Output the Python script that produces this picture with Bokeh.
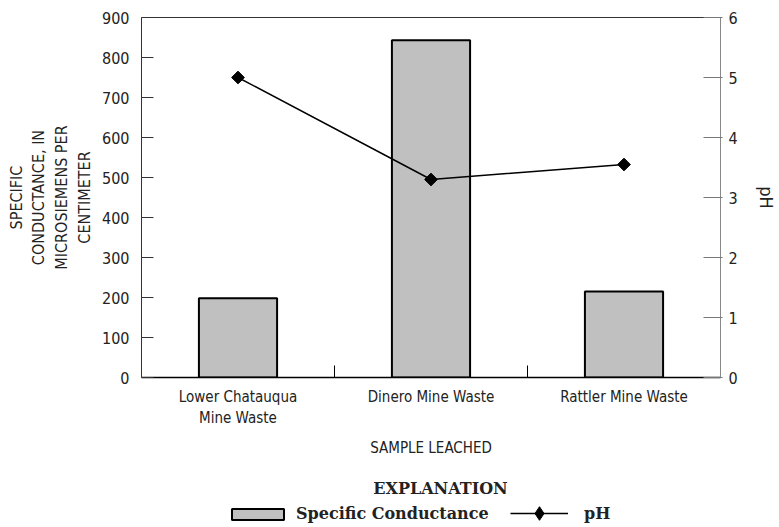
import math
from bokeh.plotting import figure
from bokeh.layouts import column
from bokeh.models import (Range1d, LinearAxis, SingleIntervalTicker, FixedTicker,
                          Legend, LegendItem, Label)
from bokeh.embed import file_html
from bokeh.resources import INLINE

categories = ["Lower Chatauqua\nMine Waste", "Dinero Mine Waste", "Rattler Mine Waste"]
conductance = [198, 843, 215]
ph = [5.00, 3.30, 3.55]
series_names = ["Specific Conductance", "pH"]

SANS = "'DejaVu Sans Condensed', 'Liberation Sans Narrow', 'Liberation Sans', sans-serif"
SERIF = "'DejaVu Serif', 'Liberation Serif', serif"

BAR_FILL = "#c0c0c0"

n = len(categories)
xc = [i + 0.5 for i in range(n)]
bounds = [i for i in range(1, n)]

p = figure(width=779, height=470, output_backend="svg", toolbar_location=None,
           x_range=Range1d(0, n), y_range=Range1d(0, 900),
           min_border_left=141, min_border_right=53, min_border_top=17, min_border_bottom=93)
p.grid.visible = False
p.outline_line_color = None
p.background_fill_color = "white"
p.border_fill_color = "white"

p.extra_y_ranges = {"ph": Range1d(0, 6)}

# x axis
xa = p.xaxis[0]
xa.ticker = FixedTicker(ticks=xc)
xa.major_label_overrides = {x: c for x, c in zip(xc, categories)}
xa.major_tick_in = 0
xa.major_tick_out = 0
xa.minor_tick_line_color = None
xa.axis_line_color = "black"
xa.axis_line_width = 1.5
xa.major_label_text_font = SANS
xa.major_label_text_font_size = "15px"
xa.major_label_text_color = "#222222"
xa.major_label_standoff = 10
xa.axis_label = "SAMPLE LEACHED"
xa.axis_label_text_font = SANS
xa.axis_label_text_font_size = "15px"
xa.axis_label_text_font_style = "normal"
xa.axis_label_text_color = "#222222"
xa.axis_label_standoff = 9

# left axis
ya = p.yaxis[0]
ya.ticker = SingleIntervalTicker(interval=100)
ya.major_tick_in = 12
ya.major_tick_out = 0
ya.minor_tick_line_color = None
ya.axis_line_color = "#333333"
ya.major_tick_line_color = "#333333"
ya.major_label_text_font = SANS
ya.major_label_text_font_size = "16px"
ya.major_label_text_color = "#222222"
ya.major_label_standoff = 8
ya.axis_label = "SPECIFIC\nCONDUCTANCE, IN\nMICROSIEMENS PER\nCENTIMETER"
ya.axis_label_text_font = SANS
ya.axis_label_text_font_size = "16px"
ya.axis_label_text_font_style = "normal"
ya.axis_label_text_color = "#222222"
ya.axis_label_standoff = 5

# right axis
ra = LinearAxis(y_range_name="ph", ticker=SingleIntervalTicker(interval=1))
ra.major_tick_in = 17
ra.major_tick_out = 2
ra.minor_tick_line_color = None
ra.axis_line_color = "#888888"
ra.major_tick_line_color = "#777777"
ra.major_label_text_font = SANS
ra.major_label_text_font_size = "16px"
ra.major_label_text_color = "#222222"
ra.major_label_standoff = 4
ra.axis_label = "pH"
ra.axis_label_text_font = SANS
ra.axis_label_text_font_size = "18px"
ra.axis_label_text_font_style = "normal"
ra.axis_label_text_color = "#222222"
ra.axis_label_standoff = 15
p.add_layout(ra, "right")

# top border axis
ta = LinearAxis(ticker=FixedTicker(ticks=[]))
ta.major_label_text_font_size = "0px"
ta.major_tick_in = 0
ta.major_tick_out = 0
ta.minor_tick_line_color = None
ta.axis_line_color = "#333333"
p.add_layout(ta, "above")

p.vbar(x=xc, top=conductance, width=0.405, fill_color=BAR_FILL,
       line_color="black", line_width=2)
p.segment(x0=bounds, x1=bounds, y0=[0] * len(bounds), y1=[30] * len(bounds),
          line_color="black", line_width=1)
p.line(x=xc, y=ph, y_range_name="ph", line_color="black", line_width=1.5)
p.scatter(x=xc, y=ph, y_range_name="ph", marker="square", angle=math.pi / 4,
          size=9, fill_color="black", line_color="black")

# explanation (legend) panel; its frame is aligned with the chart's frame
q = figure(width=779, height=57, output_backend="svg", toolbar_location=None,
           x_range=Range1d(-1000, -999), y_range=Range1d(-1000, -999),
           min_border=0, min_border_top=0, min_border_bottom=0)
q.axis.visible = False
q.grid.visible = False
q.outline_line_color = None
q.background_fill_color = "white"
q.border_fill_color = "white"

# legend proxies (same series, kept out of this panel's view and hidden)
lb = q.vbar(x=xc, top=conductance, width=0.4, fill_color=BAR_FILL, line_color="black",
            line_width=2, visible=False)
ll = q.line(x=xc, y=ph, line_color="black", line_width=1.5, visible=False)
lm = q.scatter(x=xc, y=ph, marker="diamond", size=10,
               fill_color="black", line_color="black", visible=False)

q.add_layout(Label(x=299, y=39, x_units="screen", y_units="screen", text="EXPLANATION",
                   text_align="center", text_baseline="middle", text_font=SERIF,
                   text_font_size="16px", text_font_style="bold", text_color="#222222"))

common = dict(orientation="horizontal", padding=0, margin=0, border_line_color=None,
              background_fill_alpha=0, label_text_font=SERIF, label_text_font_size="16px",
              label_text_font_style="bold", label_text_color="#222222")

leg1 = Legend(items=[LegendItem(label=series_names[0], renderers=[lb])],
              location=(84, 4), glyph_width=65, glyph_height=14, label_standoff=6, **common)
leg2 = Legend(items=[LegendItem(label=series_names[1], renderers=[ll, lm])],
              location=(369, -3), glyph_width=58, glyph_height=34, label_standoff=16, **common)
q.add_layout(leg1, "center")
q.add_layout(leg2, "center")

layout = column(p, q, spacing=0)
open("out.html", "w").write(file_html(layout, INLINE))
